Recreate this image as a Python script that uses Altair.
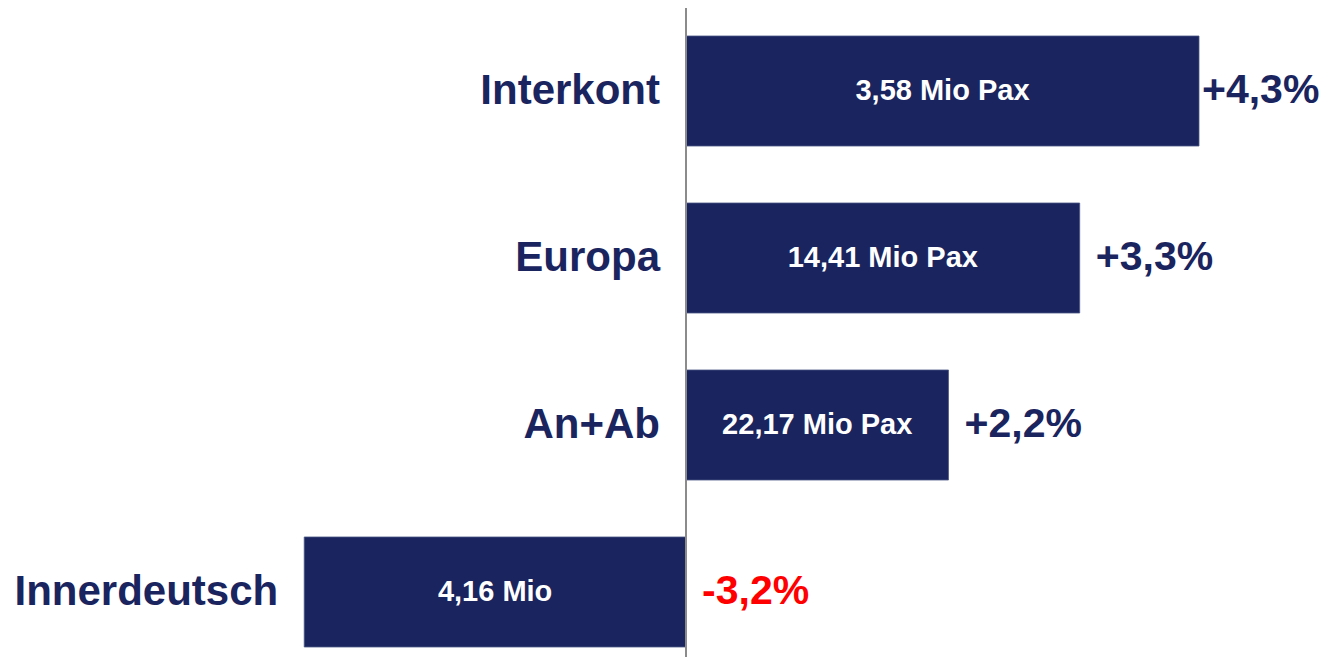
import altair as alt
import pandas as pd

categories = ["Interkont", "Europa", "An+Ab", "Innerdeutsch"]
growth = [4.3, 3.3, 2.2, -3.2]
growth_labels = ["+4,3%", "+3,3%", "+2,2%", "-3,2%"]
pax_labels = ["3,58 Mio Pax", "14,41 Mio Pax", "22,17 Mio Pax", "4,16 Mio"]

df = pd.DataFrame({
    "cat": categories,
    "value": growth,
    "pct": growth_labels,
    "pax": pax_labels,
})

NAVY = "#1a245e"
RED = "#ff0000"
FONT = "Liberation Sans"

x_scale = alt.Scale(domain=[-5.683, 5.331], nice=False, zero=False)
y_scale = alt.Scale(paddingInner=0.3413, paddingOuter=0.1048, align=0.8)

base = alt.Chart(df).encode(
    y=alt.Y("cat:N", sort=categories, scale=y_scale, axis=None)
)

bars = base.mark_bar(color=NAVY, stroke="#4a5585", strokeWidth=0.8).encode(
    x=alt.X("value:Q", scale=x_scale, axis=None),
    x2=alt.datum(0),
)

zero_rule = alt.Chart(df).mark_rule(color="#8c8c8c", strokeWidth=1.6).encode(
    x=alt.X("zero:Q", scale=x_scale, axis=None),
    y=alt.value(0),
    y2=alt.value(649),
).transform_calculate(zero="0")

cat_text = base.mark_text(
    align="right", baseline="middle", dx=-26, font=FONT, fontWeight="bold",
    fontSize=42, color=NAVY
).transform_calculate(lx="min(datum.value, 0)").encode(
    x=alt.X("lx:Q", scale=x_scale, axis=None),
    text="cat:N",
)

# label sits just right of the bar end, but is kept inside the plot area
pct_text = base.mark_text(
    align="left", baseline="middle", font=FONT, fontWeight="bold",
    fontSize=41
).transform_calculate(px="min(max(datum.value, 0) + 0.135, 4.325)").encode(
    x=alt.X("px:Q", scale=x_scale, axis=None),
    text="pct:N",
    color=alt.condition("datum.value < 0", alt.value(RED), alt.value(NAVY)),
)

pax_text = base.mark_text(
    align="center", baseline="middle", font=FONT, fontWeight="bold",
    fontSize=29, color="white"
).transform_calculate(mx="datum.value / 2").encode(
    x=alt.X("mx:Q", scale=x_scale, axis=None),
    text="pax:N",
)

chart = alt.layer(bars, zero_rule, cat_text, pct_text, pax_text).properties(
    width=1314, height=646,
    padding={"left": 0, "top": 0, "right": 0, "bottom": 3},
    autosize=alt.AutoSizeParams(type="none"),
).configure(background="white").configure_view(strokeWidth=0)

chart.save("out.html", embed_options={"renderer": "svg", "actions": False})
